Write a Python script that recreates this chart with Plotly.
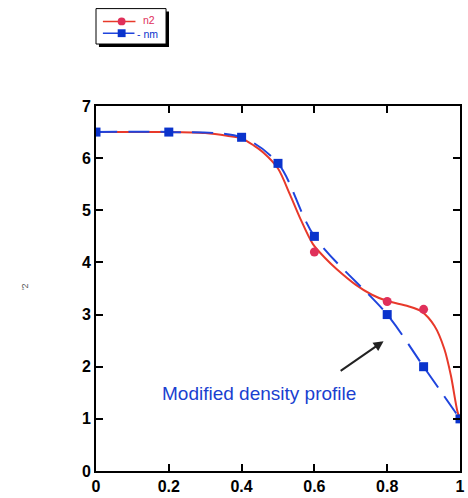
import plotly.graph_objects as go

# Data
nm_x = [0.0, 0.2, 0.4, 0.5, 0.6, 0.8, 0.9, 1.0]
nm_y = [6.5, 6.5, 6.4, 5.9, 4.5, 3.0, 2.0, 1.0]

n2_x = [0.6, 0.8, 0.9]
n2_y = [4.2, 3.25, 3.1]

n2_fit_x = [0.0, 0.2, 0.3, 0.36, 0.4, 0.434, 0.461, 0.5, 0.533, 0.56, 0.596,
            0.63, 0.66, 0.714, 0.758, 0.8, 0.858, 0.894, 0.93, 0.957, 0.975, 0.993, 1.0]
n2_fit_y = [6.5, 6.5, 6.48, 6.43, 6.38, 6.24, 6.1, 5.8, 5.3, 4.86, 4.35,
            4.08, 3.88, 3.57, 3.38, 3.26, 3.16, 3.06, 2.78, 2.34, 1.83, 1.14, 1.0]

x_ticks = [0, 0.2, 0.4, 0.6, 0.8, 1]
x_tick_labels = ["0", "0.2", "0.4", "0.6", "0.8", "1"]
y_ticks = [0, 1, 2, 3, 4, 5, 6, 7]

legend_names = ["n2", "- nm"]

RED_LINE = "#e8392a"
RED_MARK = "#e0305a"
BLUE_LINE = "#1f44dd"
BLUE_MARK = "#0a33cc"

W, H = 468, 498
ML, MR, MT, MB = 96, 3, 106, 21
PW = W - ML - MR
PH = H - MT - MB


def px(xp):
    return (xp - ML) / PW


def py(yp):
    return (H - MB - yp) / PH


fig = go.Figure()

fig.add_trace(go.Scatter(x=n2_fit_x, y=n2_fit_y, mode="lines",
                         line=dict(color=RED_LINE, width=2, shape="spline", smoothing=0.8),
                         showlegend=False, hoverinfo="skip"))
fig.add_trace(go.Scatter(x=n2_x, y=n2_y, mode="markers",
                         marker=dict(color=RED_MARK, size=9, symbol="circle"),
                         showlegend=False))
fig.add_trace(go.Scatter(x=nm_x, y=nm_y, mode="lines",
                         line=dict(color=BLUE_LINE, width=2, shape="spline", smoothing=0.9,
                                   dash="21px,11px"),
                         showlegend=False, hoverinfo="skip"))
fig.add_trace(go.Scatter(x=nm_x, y=nm_y, mode="markers",
                         marker=dict(color=BLUE_MARK, size=9, symbol="square"),
                         showlegend=False))

axis_common = dict(showgrid=False, zeroline=False, showline=True, linecolor="black",
                   linewidth=2, mirror="ticks", ticks="inside", ticklen=7, tickwidth=2,
                   tickcolor="black",
                   tickfont=dict(family="Liberation Sans, Arial", size=16, color="black",
                                 weight="bold"))

fig.update_xaxes(range=[0, 1], tickvals=x_ticks, ticktext=x_tick_labels, **axis_common)
fig.update_yaxes(range=[0, 7], tickvals=y_ticks, **axis_common)

fig.add_annotation(x=0.449, y=1.49, xref="x", yref="y", text="Modified density profile",
                   showarrow=False,
                   font=dict(family="Liberation Sans, Arial", size=19, color="#1a3fd0"))
fig.add_annotation(x=0.79, y=2.49, xref="x", yref="y", ax=0.668, ay=1.90,
                   axref="x", ayref="y", text="", showarrow=True, arrowhead=2,
                   arrowsize=1, arrowwidth=2, arrowcolor="#222222")
fig.add_annotation(x=px(17), y=py(290), xref="paper", yref="paper", text="'2",
                   showarrow=False, textangle=-90,
                   font=dict(family="Liberation Sans, Arial", size=9, color="#555555"))

# manual legend box with shadow
fig.add_shape(type="rect", xref="paper", yref="paper",
              x0=px(99), x1=px(170), y0=py(46), y1=py(10),
              fillcolor="black", line=dict(width=0))
fig.add_shape(type="rect", xref="paper", yref="paper",
              x0=px(96), x1=px(167), y0=py(43), y1=py(7),
              fillcolor="white", line=dict(color="black", width=1))
# row 1: n2
fig.add_shape(type="line", xref="paper", yref="paper",
              x0=px(103), x1=px(136), y0=py(20), y1=py(20),
              line=dict(color=RED_LINE, width=1.5))
fig.add_shape(type="circle", xref="paper", yref="paper",
              x0=px(118), x1=px(126), y0=py(24), y1=py(16),
              fillcolor=RED_MARK, line=dict(width=0))
fig.add_annotation(x=px(143), y=py(19), xref="paper", yref="paper",
                   text=legend_names[0], showarrow=False, xanchor="left", yanchor="middle",
                   borderpad=0,
                   font=dict(family="Liberation Sans, Arial", size=10.5, color=RED_MARK))
# row 2: nm
fig.add_shape(type="line", xref="paper", yref="paper",
              x0=px(103), x1=px(135), y0=py(32), y1=py(32),
              line=dict(color=BLUE_LINE, width=1.5))
fig.add_shape(type="rect", xref="paper", yref="paper",
              x0=px(118), x1=px(126), y0=py(36), y1=py(28),
              fillcolor=BLUE_MARK, line=dict(width=0))
fig.add_annotation(x=px(137), y=py(33), xref="paper", yref="paper",
                   text=legend_names[1], showarrow=False, xanchor="left", yanchor="middle",
                   borderpad=0,
                   font=dict(family="Liberation Sans, Arial", size=10.5, color=BLUE_MARK))

fig.update_layout(
    width=W, height=H,
    margin=dict(l=ML, r=MR, t=MT, b=MB),
    paper_bgcolor="white", plot_bgcolor="white",
    showlegend=False,
)

fig.write_html("out.html")
